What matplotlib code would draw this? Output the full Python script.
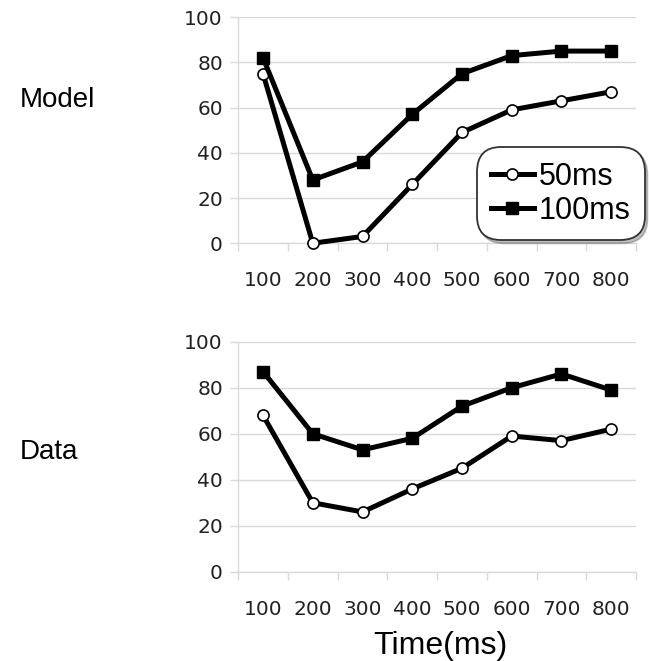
import numpy as np
import matplotlib
matplotlib.use("Agg")
import matplotlib.pyplot as plt

times = ["100", "200", "300", "400", "500", "600", "700", "800"]
series_names = ["50ms", "100ms"]

model_50 = [75, 0, 3, 26, 49, 59, 63, 67]
model_100 = [82, 28, 36, 57, 75, 83, 85, 85]
data_50 = [68, 30, 26, 36, 45, 59, 57, 62]
data_100 = [87, 60, 53, 58, 72, 80, 86, 79]

yticks = [0, 20, 40, 60, 80, 100]
grid_col = "#d9d9d9"

fig = plt.figure(figsize=(6.49, 6.61), dpi=100)
ax1 = fig.add_axes([0.367, 0.632, 0.613, 0.342])
ax2 = fig.add_axes([0.367, 0.135, 0.613, 0.348])


def style_panel(ax, v50, v100):
    x = np.arange(1, len(times) + 1)
    ax.plot(x, v50, color="black", lw=3.6, marker="o", ms=8,
            mfc="white", mec="black", mew=1.2, label=series_names[0], zorder=3)
    ax.plot(x, v100, color="black", lw=3.6, marker="s", ms=8.5,
            mfc="black", mec="black", label=series_names[1], zorder=3)
    ax.set_xlim(0.5, len(times) + 0.5)
    ax.set_ylim(0, 100)
    ax.set_yticks(yticks)
    ax.set_xticks(x)
    ax.set_xticklabels(times)
    ax.set_xticks(np.arange(0.5, len(times) + 1), minor=True)
    ax.tick_params(axis="x", which="major", length=0, pad=20, labelsize=14.5)
    ax.tick_params(axis="x", which="minor", length=6, color=grid_col, width=1)
    ax.tick_params(axis="y", length=6, color=grid_col, width=1, pad=5, labelsize=14.5)
    for lab in ax.get_xticklabels() + ax.get_yticklabels():
        lab.set_color("#222222")
    ax.grid(axis="y", color=grid_col, lw=1)
    ax.set_axisbelow(True)
    for s in ["top", "right"]:
        ax.spines[s].set_visible(False)
    for s in ["left", "bottom"]:
        ax.spines[s].set_color(grid_col)
        ax.spines[s].set_linewidth(1)
    for ln in ax.lines:
        ln.set_clip_on(False)


style_panel(ax1, model_50, model_100)
style_panel(ax2, data_50, data_100)

leg = ax1.legend(loc="lower right", bbox_to_anchor=(1.02, 0.015),
                 prop={"family": "Liberation Sans", "size": 22},
                 handlelength=1.4, handletextpad=0.15, labelspacing=0.15,
                 borderpad=0.45, borderaxespad=0.0, fancybox=True, framealpha=1,
                 shadow={"alpha": 0.35})
leg.get_frame().set_edgecolor("#333333")
leg.get_frame().set_linewidth(1.3)
leg.get_frame().set_boxstyle("round,pad=0.02,rounding_size=0.8")

fig.text(0.03, 0.848, "Model", fontsize=20, family="Liberation Sans",
         va="center", ha="left")
fig.text(0.03, 0.316, "Data", fontsize=20, family="Liberation Sans",
         va="center", ha="left")
fig.text(0.678, 0.022, "Time(ms)", fontsize=23, family="Liberation Sans",
         va="center", ha="center")

fig.savefig("out.png", dpi=100)
